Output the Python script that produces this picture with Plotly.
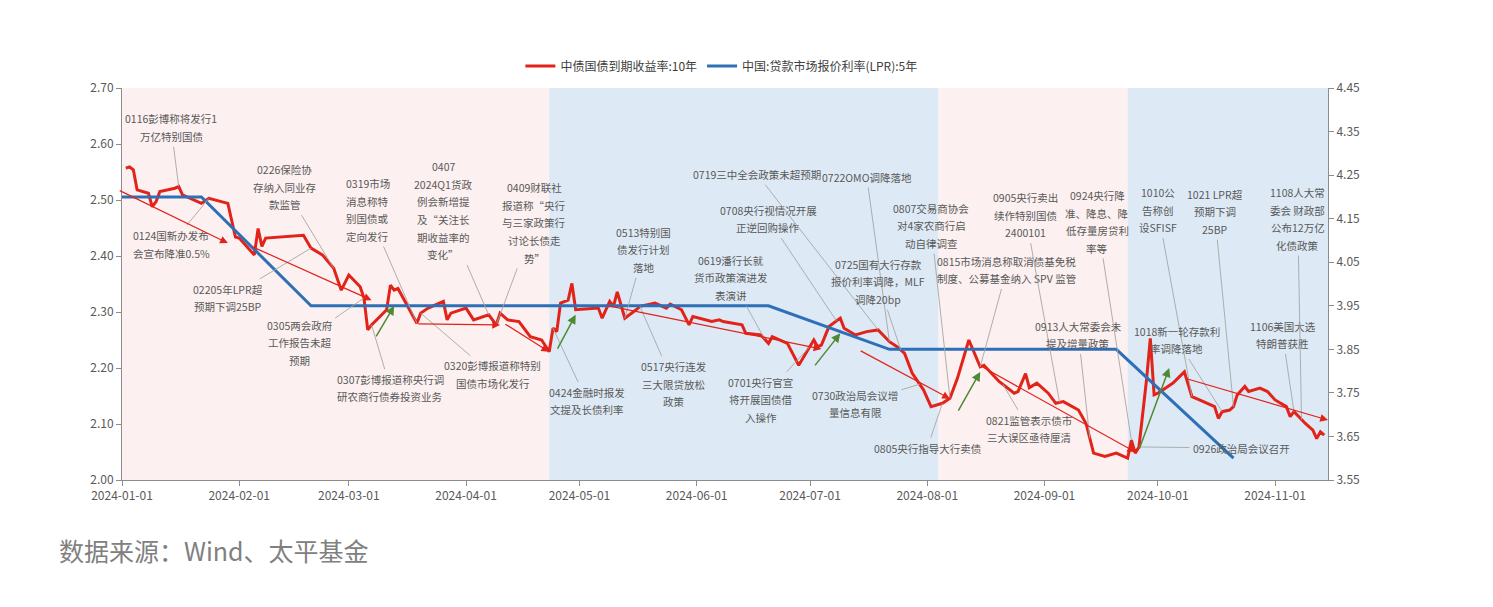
import plotly.graph_objects as go
import pandas as pd
import numpy as np

# ---------------- data ----------------
cgb_dates = [
    "2024-01-02", "2024-01-03", "2024-01-04", "2024-01-05", "2024-01-08", "2024-01-09", "2024-01-10",
    "2024-01-11", "2024-01-15", "2024-01-16", "2024-01-17", "2024-01-22", "2024-01-24", "2024-01-29",
    "2024-01-31", "2024-02-01", "2024-02-05", "2024-02-06", "2024-02-07", "2024-02-08", "2024-02-18",
    "2024-02-20", "2024-02-23", "2024-02-26", "2024-02-28", "2024-03-01", "2024-03-04", "2024-03-05",
    "2024-03-06", "2024-03-07", "2024-03-11", "2024-03-12", "2024-03-13", "2024-03-14", "2024-03-19",
    "2024-03-20", "2024-03-22", "2024-03-26", "2024-03-27", "2024-03-28", "2024-04-01", "2024-04-03",
    "2024-04-07", "2024-04-09", "2024-04-10", "2024-04-12", "2024-04-15", "2024-04-18", "2024-04-21",
    "2024-04-23", "2024-04-24", "2024-04-25", "2024-04-26", "2024-04-28", "2024-04-29", "2024-04-30",
    "2024-05-06", "2024-05-07", "2024-05-09", "2024-05-10", "2024-05-11", "2024-05-13", "2024-05-16",
    "2024-05-17", "2024-05-21", "2024-05-24", "2024-05-25", "2024-05-28", "2024-05-30", "2024-05-31",
    "2024-06-05", "2024-06-07", "2024-06-08", "2024-06-13", "2024-06-14", "2024-06-18", "2024-06-20",
    "2024-06-21", "2024-06-25", "2024-06-28", "2024-07-02", "2024-07-03", "2024-07-04", "2024-07-06",
    "2024-07-09", "2024-07-10", "2024-07-13", "2024-07-16", "2024-07-19", "2024-07-22", "2024-07-24",
    "2024-07-26", "2024-07-28", "2024-07-31", "2024-08-02", "2024-08-05", "2024-08-07", "2024-08-09",
    "2024-08-12", "2024-08-15", "2024-08-16", "2024-08-20", "2024-08-24", "2024-08-25", "2024-08-27",
    "2024-08-28", "2024-08-30", "2024-09-02", "2024-09-04", "2024-09-06", "2024-09-10", "2024-09-12",
    "2024-09-14", "2024-09-17", "2024-09-20", "2024-09-23", "2024-09-24", "2024-09-25", "2024-09-26",
    "2024-09-28", "2024-09-29", "2024-09-30", "2024-10-01", "2024-10-05", "2024-10-08", "2024-10-10",
    "2024-10-12", "2024-10-14", "2024-10-16", "2024-10-17", "2024-10-18", "2024-10-20", "2024-10-21",
    "2024-10-22", "2024-10-24", "2024-10-25", "2024-10-28", "2024-10-30", "2024-11-01", "2024-11-04",
    "2024-11-05", "2024-11-06", "2024-11-09", "2024-11-11", "2024-11-12", "2024-11-13", "2024-11-14",
]
cgb_10y = [
    2.557, 2.559, 2.554, 2.518, 2.512, 2.488, 2.497,
    2.515, 2.521, 2.524, 2.509, 2.494, 2.503, 2.494,
    2.434, 2.432, 2.402, 2.449, 2.417, 2.432, 2.437,
    2.414, 2.402, 2.378, 2.339, 2.366, 2.345, 2.325,
    2.268, 2.277, 2.304, 2.348, 2.339, 2.342, 2.280,
    2.298, 2.307, 2.319, 2.286, 2.298, 2.307, 2.286,
    2.295, 2.277, 2.298, 2.286, 2.283, 2.256, 2.250,
    2.229, 2.271, 2.265, 2.316, 2.321, 2.351, 2.304,
    2.307, 2.289, 2.319, 2.310, 2.336, 2.289, 2.304,
    2.310, 2.316, 2.307, 2.314, 2.304, 2.277, 2.292,
    2.283, 2.286, 2.283, 2.277, 2.262, 2.259, 2.244,
    2.256, 2.244, 2.205, 2.250, 2.238, 2.241, 2.274,
    2.289, 2.271, 2.259, 2.265, 2.268, 2.247, 2.238,
    2.226, 2.191, 2.161, 2.131, 2.137, 2.146, 2.182,
    2.250, 2.202, 2.205, 2.176, 2.155, 2.158, 2.190,
    2.165, 2.173, 2.155, 2.137, 2.140, 2.125, 2.101,
    2.048, 2.042, 2.048, 2.039, 2.071, 2.048, 2.059,
    2.179, 2.253, 2.152, 2.155, 2.173, 2.193, 2.149,
    2.143, 2.137, 2.131, 2.110, 2.122, 2.125, 2.131,
    2.152, 2.167, 2.158, 2.164, 2.158, 2.143, 2.131,
    2.113, 2.122, 2.101, 2.089, 2.074, 2.086, 2.080,
]

lpr_dates = ["2023-12-20", "2024-01-22", "2024-02-20", "2024-03-20", "2024-04-22", "2024-05-20",
             "2024-06-20", "2024-07-22", "2024-08-20", "2024-09-20", "2024-10-21"]
lpr_5y = [4.20, 4.20, 3.95, 3.95, 3.95, 3.95, 3.95, 3.85, 3.85, 3.85, 3.60]

# background regime bands
band_starts = ["2024-01-01", "2024-04-23", "2024-08-04", "2024-09-23"]
band_ends = ["2024-04-23", "2024-08-04", "2024-09-23", "2024-11-15"]
band_kind = ["up", "down", "up", "down"]

# event annotations: label, event date, label-centre date, label-centre value
event_labels = [
    "0116彭博称将发行1<br>万亿特别国债",
    "0124国新办发布<br>会宣布降准0.5%",
    "02205年LPR超<br>预期下调25BP",
    "0226保险协<br>存纳入同业存<br>款监管",
    "0305两会政府<br>工作报告未超<br>预期",
    "0307彭博报道称央行调<br>研农商行债券投资业务",
    "0319市场<br>消息称特<br>别国债或<br>定向发行",
    "0320彭博报道称特别<br>国债市场化发行",
    "0407<br>2024Q1货政<br>例会新增提<br>及“关注长<br>期收益率的<br>变化”",
    "0409财联社<br>报道称“央行<br>与三家政策行<br>讨论长债走<br>势”",
    "0424金融时报发<br>文提及长债利率",
    "0513特别国<br>债发行计划<br>落地",
    "0517央行连发<br>三大限贷放松<br>政策",
    "0619潘行长就<br>货币政策演进发<br>表演讲",
    "0701央行官宣<br>将开展国债借<br>入操作",
    "0708央行视情况开展<br>正逆回购操作",
    "0719三中全会政策未超预期",
    "0722OMO调降落地",
    "0725国有大行存款<br>报价利率调降，MLF<br>调降20bp",
    "0730政治局会议增<br>量信息有限",
    "0805央行指导大行卖债",
    "0807交易商协会<br>对4家农商行启<br>动自律调查",
    "0815市场消息称取消债基免税<br>制度、公募基金纳入 SPV 监管",
    "0821监管表示债市<br>三大误区亟待厘清",
    "0905央行卖出<br>续作特别国债<br>2400101",
    "0913人大常委会未<br>提及增量政策",
    "0924央行降<br>准、降息、降<br>低存量房贷利<br>率等",
    "0926政治局会议召开",
    "1010公<br>告称创<br>设SFISF",
    "1018新一轮存款利<br>率调降落地",
    "1021 LPR超<br>预期下调<br>25BP",
    "1106美国大选<br>特朗普获胜",
    "1108人大常<br>委会 财政部<br>公布12万亿<br>化债政策",
]
event_dates = [
    "2024-01-16", "2024-01-24", "2024-02-20", "2024-02-26", "2024-03-05", "2024-03-07", "2024-03-19",
    "2024-03-20", "2024-04-07", "2024-04-09", "2024-04-24", "2024-05-13", "2024-05-17", "2024-06-19",
    "2024-07-01", "2024-07-08", "2024-07-19", "2024-07-22", "2024-07-25", "2024-07-30", "2024-08-05",
    "2024-08-07", "2024-08-15", "2024-08-21", "2024-09-05", "2024-09-13", "2024-09-24", "2024-09-26",
    "2024-10-10", "2024-10-18", "2024-10-21", "2024-11-06", "2024-11-08",
]
label_dates = [
    "2024-01-14", "2024-01-14", "2024-01-29", "2024-02-13", "2024-02-17", "2024-03-12", "2024-03-06",
    "2024-04-08", "2024-03-26", "2024-04-19", "2024-05-03", "2024-05-18", "2024-05-26", "2024-06-10",
    "2024-06-18", "2024-06-20", "2024-06-17", "2024-07-16", "2024-07-19", "2024-07-13", "2024-08-01",
    "2024-08-02", "2024-08-22", "2024-08-28", "2024-08-27", "2024-09-10", "2024-09-15", "2024-10-23",
    "2024-10-01", "2024-10-06", "2024-10-16", "2024-11-03", "2024-11-07",
]
label_vals = [
    2.629, 2.421, 2.325, 2.523, 2.245, 2.164, 2.482,
    2.188, 2.481, 2.459, 2.141, 2.411, 2.171, 2.361,
    2.143, 2.466, 2.546, 2.541, 2.354, 2.136, 2.057,
    2.454, 2.375, 2.091, 2.473, 2.259, 2.461, 2.057,
    2.482, 2.250, 2.479, 2.259, 2.466,
]

# trend arrows (red) and rebound arrows (green): start date/value -> end date/value
trend_start_dates = ["2023-12-31", "2024-02-04", "2024-03-19", "2024-04-11", "2024-05-08", "2024-07-14",
                     "2024-08-15", "2024-10-08"]
trend_start_vals = [2.518, 2.418, 2.279, 2.280, 2.312, 2.232, 2.204, 2.182]
trend_end_dates = ["2024-01-29", "2024-03-07", "2024-04-10", "2024-04-23", "2024-07-04", "2024-08-07",
                   "2024-09-25", "2024-11-15"]
trend_end_vals = [2.423, 2.321, 2.277, 2.229, 2.234, 2.145, 2.050, 2.107]

rebound_start_dates = ["2024-03-08", "2024-04-25", "2024-07-02", "2024-08-09", "2024-09-26"]
rebound_start_vals = [2.254, 2.232, 2.202, 2.121, 2.054]
rebound_end_dates = ["2024-03-13", "2024-04-30", "2024-07-09", "2024-08-15", "2024-10-04"]
rebound_end_vals = [2.311, 2.295, 2.262, 2.193, 2.200]

# ---------------- styles ----------------
RED = "#e2231a"
BLUE = "#2e70b7"
GREEN = "#4e8a34"
PINK_BG = "#fcf0f0"
BLUE_BG = "#dde9f5"
TXT = "#595959"
LEADER = "#a6a6a6"
AXIS = "#8c8c8c"
FONT = "Noto Sans CJK SC"
LABEL_SIZE = 10.5
LINE_GAP = 17.6


def text_width(line):
    w = 0.0
    for ch in line:
        if ch == " ":
            w += 0.26
        elif ord(ch) < 128:
            w += 0.58
        else:
            w += 1.0
    return w * LABEL_SIZE


fig = go.Figure()

fig.add_trace(go.Scatter(
    x=pd.to_datetime(cgb_dates), y=cgb_10y, mode="lines", name="中债国债到期收益率:10年",
    line=dict(color=RED, width=3), yaxis="y"))
fig.add_trace(go.Scatter(
    x=pd.to_datetime(lpr_dates), y=lpr_5y, mode="lines", name="中国:贷款市场报价利率(LPR):5年",
    line=dict(color=BLUE, width=3), yaxis="y2"))

for s, e, k in zip(band_starts, band_ends, band_kind):
    fig.add_shape(type="rect", xref="x", yref="paper", x0=s, x1=e, y0=0, y1=1,
                  fillcolor=PINK_BG if k == "up" else BLUE_BG, line=dict(width=0), layer="below")

# yield on each event date, read from the series
ord_x = pd.to_datetime(cgb_dates).map(pd.Timestamp.toordinal).to_numpy()
annotations = []
for lab, ed, ld, lv in zip(event_labels, event_dates, label_dates, label_vals):
    ev = float(np.interp(pd.Timestamp(ed).toordinal(), ord_x, cgb_10y))
    lines = lab.split("<br>")
    n = len(lines)
    # leader line starting from the edge of an empty box the size of the label
    annotations.append(dict(
        x=ed, y=ev, xref="x", yref="y", ax=ld, ay=lv, axref="x", ayref="y",
        text="", width=max(text_width(l) for l in lines) + 2, height=n * LINE_GAP,
        showarrow=True, arrowhead=0, arrowwidth=0.9, arrowcolor=LEADER))
    for i, ln in enumerate(lines):
        annotations.append(dict(
            x=ld, y=lv, xref="x", yref="y", text=ln, showarrow=False,
            xanchor="center", yanchor="middle", yshift=((n - 1) / 2 - i) * LINE_GAP,
            font=dict(family=FONT, size=LABEL_SIZE, color=TXT)))

for sd, sv, ed, ev in zip(trend_start_dates, trend_start_vals, trend_end_dates, trend_end_vals):
    annotations.append(dict(
        x=ed, y=ev, xref="x", yref="y", ax=sd, ay=sv, axref="x", ayref="y",
        text="", showarrow=True, arrowhead=2, arrowsize=1.3, arrowwidth=1.2, arrowcolor=RED))

for sd, sv, ed, ev in zip(rebound_start_dates, rebound_start_vals, rebound_end_dates, rebound_end_vals):
    annotations.append(dict(
        x=ed, y=ev, xref="x", yref="y", ax=sd, ay=sv, axref="x", ayref="y",
        text="", showarrow=True, arrowhead=2, arrowsize=1.2, arrowwidth=1.5, arrowcolor=GREEN))

annotations.append(dict(
    xref="paper", yref="paper", x=-0.054, y=-0.178, xanchor="left", yanchor="middle",
    text="数据来源：Wind、太平基金", showarrow=False,
    font=dict(family=FONT, size=25, color="#808080")))

fig.update_layout(
    width=1485, height=599,
    margin=dict(l=114, r=165, t=80, b=127),
    paper_bgcolor="white", plot_bgcolor="white",
    font=dict(family=FONT, size=12, color=TXT),
    showlegend=True,
    legend=dict(orientation="h", x=0.497, xanchor="center", y=1.056, yanchor="middle",
                font=dict(family=FONT, size=12, color="#404040"), bgcolor="rgba(0,0,0,0)",
                itemwidth=30, tracegroupgap=0),
    xaxis=dict(
        type="date", range=["2024-01-01", "2024-11-15"], tick0="2024-01-01", dtick="M1",
        tickformat="%Y-%m-%d", showgrid=False, zeroline=False,
        showline=True, linecolor=AXIS, linewidth=1, ticks="outside", ticklen=5, tickcolor=AXIS,
        tickfont=dict(family=FONT, size=12, color=TXT)),
    yaxis=dict(
        range=[2.0, 2.7], tick0=2.0, dtick=0.1, tickformat=".2f", showgrid=False, zeroline=False,
        showline=True, linecolor=AXIS, linewidth=1, ticks="outside", ticklen=5, tickcolor=AXIS,
        tickfont=dict(family=FONT, size=12, color=TXT)),
    yaxis2=dict(
        range=[3.55, 4.45], tick0=3.55, dtick=0.1, tickformat=".2f", overlaying="y", side="right",
        showgrid=False, zeroline=False,
        showline=True, linecolor=AXIS, linewidth=1, ticks="outside", ticklen=5, tickcolor=AXIS,
        tickfont=dict(family=FONT, size=12, color=TXT)),
    annotations=annotations,
)

fig.write_html("out.html")
